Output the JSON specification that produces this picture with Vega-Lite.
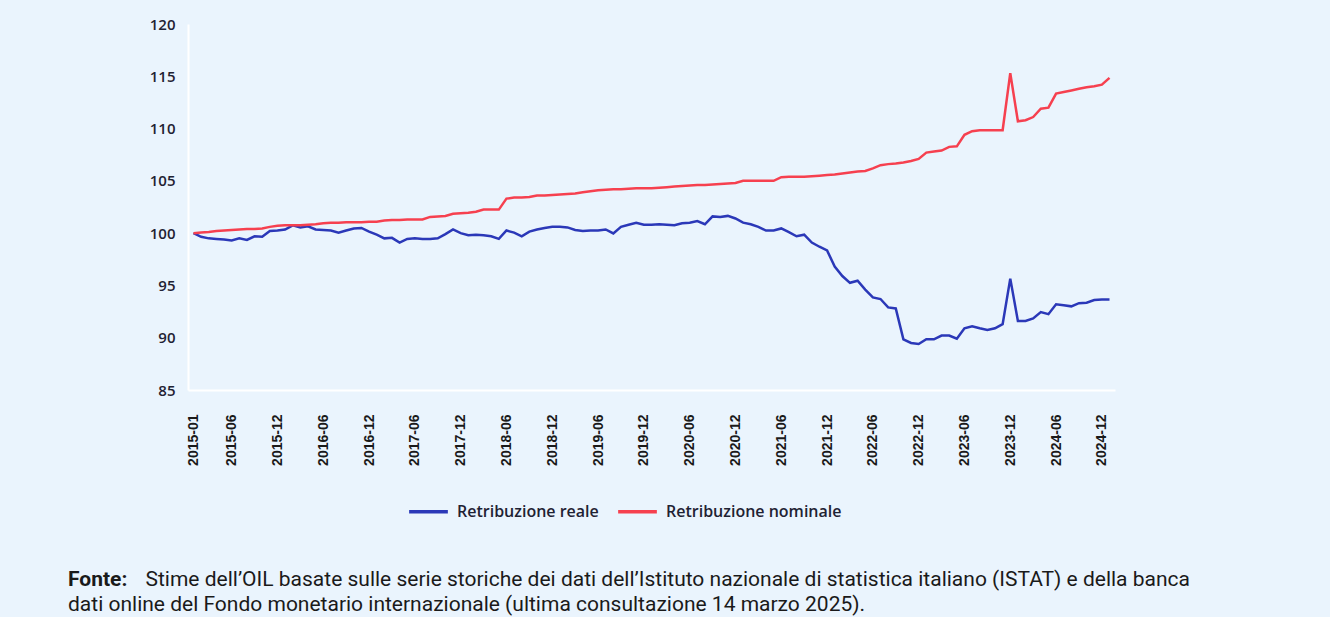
{
  "$schema": "https://vega.github.io/schema/vega-lite/v6.json",
  "width": 927,
  "height": 366,
  "autosize": {"type": "none"},
  "padding": {"left": 188, "top": 24, "right": 215, "bottom": 227},
  "background": "#eaf4fd",
  "view": {"stroke": null},
  "title": {
    "text": "Fonte:",
    "subtitle": "dati online del Fondo monetario internazionale (ultima consultazione 14 marzo 2025).",
    "orient": "bottom",
    "anchor": "start",
    "frame": "group",
    "dx": -120,
    "offset": -20,
    "font": "Roboto",
    "fontSize": 21,
    "fontWeight": "bold",
    "color": "#1a1a1a",
    "subtitleFont": "Roboto",
    "subtitleFontSize": 21,
    "subtitleColor": "#1a1a1a",
    "subtitlePadding": 4
  },
  "data": {"values": [
    {"mese":"2015-01","serie":"Retribuzione reale","valore":100.0},
    {"mese":"2015-02","serie":"Retribuzione reale","valore":99.65},
    {"mese":"2015-03","serie":"Retribuzione reale","valore":99.5},
    {"mese":"2015-04","serie":"Retribuzione reale","valore":99.45},
    {"mese":"2015-05","serie":"Retribuzione reale","valore":99.4},
    {"mese":"2015-06","serie":"Retribuzione reale","valore":99.3},
    {"mese":"2015-07","serie":"Retribuzione reale","valore":99.5},
    {"mese":"2015-08","serie":"Retribuzione reale","valore":99.35},
    {"mese":"2015-09","serie":"Retribuzione reale","valore":99.7},
    {"mese":"2015-10","serie":"Retribuzione reale","valore":99.65},
    {"mese":"2015-11","serie":"Retribuzione reale","valore":100.2},
    {"mese":"2015-12","serie":"Retribuzione reale","valore":100.25},
    {"mese":"2016-01","serie":"Retribuzione reale","valore":100.35},
    {"mese":"2016-02","serie":"Retribuzione reale","valore":100.75},
    {"mese":"2016-03","serie":"Retribuzione reale","valore":100.55},
    {"mese":"2016-04","serie":"Retribuzione reale","valore":100.65},
    {"mese":"2016-05","serie":"Retribuzione reale","valore":100.35},
    {"mese":"2016-06","serie":"Retribuzione reale","valore":100.3},
    {"mese":"2016-07","serie":"Retribuzione reale","valore":100.25},
    {"mese":"2016-08","serie":"Retribuzione reale","valore":100.05},
    {"mese":"2016-09","serie":"Retribuzione reale","valore":100.25},
    {"mese":"2016-10","serie":"Retribuzione reale","valore":100.45},
    {"mese":"2016-11","serie":"Retribuzione reale","valore":100.5},
    {"mese":"2016-12","serie":"Retribuzione reale","valore":100.15},
    {"mese":"2017-01","serie":"Retribuzione reale","valore":99.85},
    {"mese":"2017-02","serie":"Retribuzione reale","valore":99.5},
    {"mese":"2017-03","serie":"Retribuzione reale","valore":99.55},
    {"mese":"2017-04","serie":"Retribuzione reale","valore":99.1},
    {"mese":"2017-05","serie":"Retribuzione reale","valore":99.45},
    {"mese":"2017-06","serie":"Retribuzione reale","valore":99.5},
    {"mese":"2017-07","serie":"Retribuzione reale","valore":99.45},
    {"mese":"2017-08","serie":"Retribuzione reale","valore":99.45},
    {"mese":"2017-09","serie":"Retribuzione reale","valore":99.5},
    {"mese":"2017-10","serie":"Retribuzione reale","valore":99.9},
    {"mese":"2017-11","serie":"Retribuzione reale","valore":100.35},
    {"mese":"2017-12","serie":"Retribuzione reale","valore":100.0},
    {"mese":"2018-01","serie":"Retribuzione reale","valore":99.8},
    {"mese":"2018-02","serie":"Retribuzione reale","valore":99.85},
    {"mese":"2018-03","serie":"Retribuzione reale","valore":99.8},
    {"mese":"2018-04","serie":"Retribuzione reale","valore":99.7},
    {"mese":"2018-05","serie":"Retribuzione reale","valore":99.45},
    {"mese":"2018-06","serie":"Retribuzione reale","valore":100.25},
    {"mese":"2018-07","serie":"Retribuzione reale","valore":100.05},
    {"mese":"2018-08","serie":"Retribuzione reale","valore":99.7},
    {"mese":"2018-09","serie":"Retribuzione reale","valore":100.15},
    {"mese":"2018-10","serie":"Retribuzione reale","valore":100.35},
    {"mese":"2018-11","serie":"Retribuzione reale","valore":100.5},
    {"mese":"2018-12","serie":"Retribuzione reale","valore":100.6},
    {"mese":"2019-01","serie":"Retribuzione reale","valore":100.6},
    {"mese":"2019-02","serie":"Retribuzione reale","valore":100.55},
    {"mese":"2019-03","serie":"Retribuzione reale","valore":100.3},
    {"mese":"2019-04","serie":"Retribuzione reale","valore":100.2},
    {"mese":"2019-05","serie":"Retribuzione reale","valore":100.25},
    {"mese":"2019-06","serie":"Retribuzione reale","valore":100.25},
    {"mese":"2019-07","serie":"Retribuzione reale","valore":100.35},
    {"mese":"2019-08","serie":"Retribuzione reale","valore":99.97},
    {"mese":"2019-09","serie":"Retribuzione reale","valore":100.6},
    {"mese":"2019-10","serie":"Retribuzione reale","valore":100.8},
    {"mese":"2019-11","serie":"Retribuzione reale","valore":101.0},
    {"mese":"2019-12","serie":"Retribuzione reale","valore":100.8},
    {"mese":"2020-01","serie":"Retribuzione reale","valore":100.8},
    {"mese":"2020-02","serie":"Retribuzione reale","valore":100.85},
    {"mese":"2020-03","serie":"Retribuzione reale","valore":100.8},
    {"mese":"2020-04","serie":"Retribuzione reale","valore":100.75},
    {"mese":"2020-05","serie":"Retribuzione reale","valore":100.95},
    {"mese":"2020-06","serie":"Retribuzione reale","valore":101.0},
    {"mese":"2020-07","serie":"Retribuzione reale","valore":101.15},
    {"mese":"2020-08","serie":"Retribuzione reale","valore":100.85},
    {"mese":"2020-09","serie":"Retribuzione reale","valore":101.6},
    {"mese":"2020-10","serie":"Retribuzione reale","valore":101.55},
    {"mese":"2020-11","serie":"Retribuzione reale","valore":101.65},
    {"mese":"2020-12","serie":"Retribuzione reale","valore":101.4},
    {"mese":"2021-01","serie":"Retribuzione reale","valore":101.0},
    {"mese":"2021-02","serie":"Retribuzione reale","valore":100.85},
    {"mese":"2021-03","serie":"Retribuzione reale","valore":100.6},
    {"mese":"2021-04","serie":"Retribuzione reale","valore":100.25},
    {"mese":"2021-05","serie":"Retribuzione reale","valore":100.25},
    {"mese":"2021-06","serie":"Retribuzione reale","valore":100.45},
    {"mese":"2021-07","serie":"Retribuzione reale","valore":100.1},
    {"mese":"2021-08","serie":"Retribuzione reale","valore":99.7},
    {"mese":"2021-09","serie":"Retribuzione reale","valore":99.85},
    {"mese":"2021-10","serie":"Retribuzione reale","valore":99.1},
    {"mese":"2021-11","serie":"Retribuzione reale","valore":98.7},
    {"mese":"2021-12","serie":"Retribuzione reale","valore":98.35},
    {"mese":"2022-01","serie":"Retribuzione reale","valore":96.8},
    {"mese":"2022-02","serie":"Retribuzione reale","valore":95.9},
    {"mese":"2022-03","serie":"Retribuzione reale","valore":95.25},
    {"mese":"2022-04","serie":"Retribuzione reale","valore":95.45},
    {"mese":"2022-05","serie":"Retribuzione reale","valore":94.6},
    {"mese":"2022-06","serie":"Retribuzione reale","valore":93.85},
    {"mese":"2022-07","serie":"Retribuzione reale","valore":93.7},
    {"mese":"2022-08","serie":"Retribuzione reale","valore":92.9},
    {"mese":"2022-09","serie":"Retribuzione reale","valore":92.8},
    {"mese":"2022-10","serie":"Retribuzione reale","valore":89.85},
    {"mese":"2022-11","serie":"Retribuzione reale","valore":89.5},
    {"mese":"2022-12","serie":"Retribuzione reale","valore":89.4},
    {"mese":"2023-01","serie":"Retribuzione reale","valore":89.85},
    {"mese":"2023-02","serie":"Retribuzione reale","valore":89.85},
    {"mese":"2023-03","serie":"Retribuzione reale","valore":90.2},
    {"mese":"2023-04","serie":"Retribuzione reale","valore":90.2},
    {"mese":"2023-05","serie":"Retribuzione reale","valore":89.9},
    {"mese":"2023-06","serie":"Retribuzione reale","valore":90.9},
    {"mese":"2023-07","serie":"Retribuzione reale","valore":91.1},
    {"mese":"2023-08","serie":"Retribuzione reale","valore":90.9},
    {"mese":"2023-09","serie":"Retribuzione reale","valore":90.75},
    {"mese":"2023-10","serie":"Retribuzione reale","valore":90.9},
    {"mese":"2023-11","serie":"Retribuzione reale","valore":91.3},
    {"mese":"2023-12","serie":"Retribuzione reale","valore":95.65},
    {"mese":"2024-01","serie":"Retribuzione reale","valore":91.6},
    {"mese":"2024-02","serie":"Retribuzione reale","valore":91.6},
    {"mese":"2024-03","serie":"Retribuzione reale","valore":91.85},
    {"mese":"2024-04","serie":"Retribuzione reale","valore":92.45},
    {"mese":"2024-05","serie":"Retribuzione reale","valore":92.25},
    {"mese":"2024-06","serie":"Retribuzione reale","valore":93.2},
    {"mese":"2024-07","serie":"Retribuzione reale","valore":93.1},
    {"mese":"2024-08","serie":"Retribuzione reale","valore":93.0},
    {"mese":"2024-09","serie":"Retribuzione reale","valore":93.3},
    {"mese":"2024-10","serie":"Retribuzione reale","valore":93.35},
    {"mese":"2024-11","serie":"Retribuzione reale","valore":93.6},
    {"mese":"2024-12","serie":"Retribuzione reale","valore":93.65},
    {"mese":"2025-01","serie":"Retribuzione reale","valore":93.65},
    {"mese":"2015-01","serie":"Retribuzione nominale","valore":100.0},
    {"mese":"2015-02","serie":"Retribuzione nominale","valore":100.05},
    {"mese":"2015-03","serie":"Retribuzione nominale","valore":100.1},
    {"mese":"2015-04","serie":"Retribuzione nominale","valore":100.2},
    {"mese":"2015-05","serie":"Retribuzione nominale","valore":100.25},
    {"mese":"2015-06","serie":"Retribuzione nominale","valore":100.3},
    {"mese":"2015-07","serie":"Retribuzione nominale","valore":100.35},
    {"mese":"2015-08","serie":"Retribuzione nominale","valore":100.4},
    {"mese":"2015-09","serie":"Retribuzione nominale","valore":100.4},
    {"mese":"2015-10","serie":"Retribuzione nominale","valore":100.45},
    {"mese":"2015-11","serie":"Retribuzione nominale","valore":100.6},
    {"mese":"2015-12","serie":"Retribuzione nominale","valore":100.7},
    {"mese":"2016-01","serie":"Retribuzione nominale","valore":100.75},
    {"mese":"2016-02","serie":"Retribuzione nominale","valore":100.75},
    {"mese":"2016-03","serie":"Retribuzione nominale","valore":100.75},
    {"mese":"2016-04","serie":"Retribuzione nominale","valore":100.8},
    {"mese":"2016-05","serie":"Retribuzione nominale","valore":100.85},
    {"mese":"2016-06","serie":"Retribuzione nominale","valore":100.95},
    {"mese":"2016-07","serie":"Retribuzione nominale","valore":101.0},
    {"mese":"2016-08","serie":"Retribuzione nominale","valore":101.0},
    {"mese":"2016-09","serie":"Retribuzione nominale","valore":101.05},
    {"mese":"2016-10","serie":"Retribuzione nominale","valore":101.05},
    {"mese":"2016-11","serie":"Retribuzione nominale","valore":101.05},
    {"mese":"2016-12","serie":"Retribuzione nominale","valore":101.1},
    {"mese":"2017-01","serie":"Retribuzione nominale","valore":101.1},
    {"mese":"2017-02","serie":"Retribuzione nominale","valore":101.2},
    {"mese":"2017-03","serie":"Retribuzione nominale","valore":101.25},
    {"mese":"2017-04","serie":"Retribuzione nominale","valore":101.25},
    {"mese":"2017-05","serie":"Retribuzione nominale","valore":101.3},
    {"mese":"2017-06","serie":"Retribuzione nominale","valore":101.3},
    {"mese":"2017-07","serie":"Retribuzione nominale","valore":101.3},
    {"mese":"2017-08","serie":"Retribuzione nominale","valore":101.55},
    {"mese":"2017-09","serie":"Retribuzione nominale","valore":101.6},
    {"mese":"2017-10","serie":"Retribuzione nominale","valore":101.65},
    {"mese":"2017-11","serie":"Retribuzione nominale","valore":101.85},
    {"mese":"2017-12","serie":"Retribuzione nominale","valore":101.9},
    {"mese":"2018-01","serie":"Retribuzione nominale","valore":101.95},
    {"mese":"2018-02","serie":"Retribuzione nominale","valore":102.05},
    {"mese":"2018-03","serie":"Retribuzione nominale","valore":102.25},
    {"mese":"2018-04","serie":"Retribuzione nominale","valore":102.25},
    {"mese":"2018-05","serie":"Retribuzione nominale","valore":102.25},
    {"mese":"2018-06","serie":"Retribuzione nominale","valore":103.3},
    {"mese":"2018-07","serie":"Retribuzione nominale","valore":103.4},
    {"mese":"2018-08","serie":"Retribuzione nominale","valore":103.4},
    {"mese":"2018-09","serie":"Retribuzione nominale","valore":103.45},
    {"mese":"2018-10","serie":"Retribuzione nominale","valore":103.6},
    {"mese":"2018-11","serie":"Retribuzione nominale","valore":103.6},
    {"mese":"2018-12","serie":"Retribuzione nominale","valore":103.65},
    {"mese":"2019-01","serie":"Retribuzione nominale","valore":103.7},
    {"mese":"2019-02","serie":"Retribuzione nominale","valore":103.75},
    {"mese":"2019-03","serie":"Retribuzione nominale","valore":103.8},
    {"mese":"2019-04","serie":"Retribuzione nominale","valore":103.9},
    {"mese":"2019-05","serie":"Retribuzione nominale","valore":104.0},
    {"mese":"2019-06","serie":"Retribuzione nominale","valore":104.1},
    {"mese":"2019-07","serie":"Retribuzione nominale","valore":104.15},
    {"mese":"2019-08","serie":"Retribuzione nominale","valore":104.2},
    {"mese":"2019-09","serie":"Retribuzione nominale","valore":104.2},
    {"mese":"2019-10","serie":"Retribuzione nominale","valore":104.25},
    {"mese":"2019-11","serie":"Retribuzione nominale","valore":104.3},
    {"mese":"2019-12","serie":"Retribuzione nominale","valore":104.3},
    {"mese":"2020-01","serie":"Retribuzione nominale","valore":104.3},
    {"mese":"2020-02","serie":"Retribuzione nominale","valore":104.35},
    {"mese":"2020-03","serie":"Retribuzione nominale","valore":104.4},
    {"mese":"2020-04","serie":"Retribuzione nominale","valore":104.45},
    {"mese":"2020-05","serie":"Retribuzione nominale","valore":104.5},
    {"mese":"2020-06","serie":"Retribuzione nominale","valore":104.55},
    {"mese":"2020-07","serie":"Retribuzione nominale","valore":104.6},
    {"mese":"2020-08","serie":"Retribuzione nominale","valore":104.6},
    {"mese":"2020-09","serie":"Retribuzione nominale","valore":104.65},
    {"mese":"2020-10","serie":"Retribuzione nominale","valore":104.7},
    {"mese":"2020-11","serie":"Retribuzione nominale","valore":104.75},
    {"mese":"2020-12","serie":"Retribuzione nominale","valore":104.8},
    {"mese":"2021-01","serie":"Retribuzione nominale","valore":105.0},
    {"mese":"2021-02","serie":"Retribuzione nominale","valore":105.0},
    {"mese":"2021-03","serie":"Retribuzione nominale","valore":105.0},
    {"mese":"2021-04","serie":"Retribuzione nominale","valore":105.0},
    {"mese":"2021-05","serie":"Retribuzione nominale","valore":105.0},
    {"mese":"2021-06","serie":"Retribuzione nominale","valore":105.35},
    {"mese":"2021-07","serie":"Retribuzione nominale","valore":105.4},
    {"mese":"2021-08","serie":"Retribuzione nominale","valore":105.4},
    {"mese":"2021-09","serie":"Retribuzione nominale","valore":105.4},
    {"mese":"2021-10","serie":"Retribuzione nominale","valore":105.45},
    {"mese":"2021-11","serie":"Retribuzione nominale","valore":105.5},
    {"mese":"2021-12","serie":"Retribuzione nominale","valore":105.55},
    {"mese":"2022-01","serie":"Retribuzione nominale","valore":105.6},
    {"mese":"2022-02","serie":"Retribuzione nominale","valore":105.7},
    {"mese":"2022-03","serie":"Retribuzione nominale","valore":105.8},
    {"mese":"2022-04","serie":"Retribuzione nominale","valore":105.9},
    {"mese":"2022-05","serie":"Retribuzione nominale","valore":105.95},
    {"mese":"2022-06","serie":"Retribuzione nominale","valore":106.2},
    {"mese":"2022-07","serie":"Retribuzione nominale","valore":106.5},
    {"mese":"2022-08","serie":"Retribuzione nominale","valore":106.6},
    {"mese":"2022-09","serie":"Retribuzione nominale","valore":106.65},
    {"mese":"2022-10","serie":"Retribuzione nominale","valore":106.75},
    {"mese":"2022-11","serie":"Retribuzione nominale","valore":106.9},
    {"mese":"2022-12","serie":"Retribuzione nominale","valore":107.1},
    {"mese":"2023-01","serie":"Retribuzione nominale","valore":107.7},
    {"mese":"2023-02","serie":"Retribuzione nominale","valore":107.8},
    {"mese":"2023-03","serie":"Retribuzione nominale","valore":107.9},
    {"mese":"2023-04","serie":"Retribuzione nominale","valore":108.25},
    {"mese":"2023-05","serie":"Retribuzione nominale","valore":108.3},
    {"mese":"2023-06","serie":"Retribuzione nominale","valore":109.4},
    {"mese":"2023-07","serie":"Retribuzione nominale","valore":109.75},
    {"mese":"2023-08","serie":"Retribuzione nominale","valore":109.85},
    {"mese":"2023-09","serie":"Retribuzione nominale","valore":109.85},
    {"mese":"2023-10","serie":"Retribuzione nominale","valore":109.85},
    {"mese":"2023-11","serie":"Retribuzione nominale","valore":109.85},
    {"mese":"2023-12","serie":"Retribuzione nominale","valore":115.3},
    {"mese":"2024-01","serie":"Retribuzione nominale","valore":110.7},
    {"mese":"2024-02","serie":"Retribuzione nominale","valore":110.8},
    {"mese":"2024-03","serie":"Retribuzione nominale","valore":111.1},
    {"mese":"2024-04","serie":"Retribuzione nominale","valore":111.9},
    {"mese":"2024-05","serie":"Retribuzione nominale","valore":112.0},
    {"mese":"2024-06","serie":"Retribuzione nominale","valore":113.35},
    {"mese":"2024-07","serie":"Retribuzione nominale","valore":113.5},
    {"mese":"2024-08","serie":"Retribuzione nominale","valore":113.65},
    {"mese":"2024-09","serie":"Retribuzione nominale","valore":113.8},
    {"mese":"2024-10","serie":"Retribuzione nominale","valore":113.95},
    {"mese":"2024-11","serie":"Retribuzione nominale","valore":114.05},
    {"mese":"2024-12","serie":"Retribuzione nominale","valore":114.2},
    {"mese":"2025-01","serie":"Retribuzione nominale","valore":114.85}
  ]},
  "mark": {"type": "line", "strokeWidth": 2.5},
  "encoding": {
    "x": {
      "field": "mese",
      "type": "ordinal",
      "scale": {"type": "point", "padding": 0.72},
      "axis": {
        "values": ["2015-01","2015-06","2015-12","2016-06","2016-12","2017-06","2017-12","2018-06","2018-12","2019-06","2019-12","2020-06","2020-12","2021-06","2021-12","2022-06","2022-12","2023-06","2023-12","2024-06","2024-12"],
        "title": "Stime dell\u2019OIL basate sulle serie storiche dei dati dell\u2019Istituto nazionale di statistica italiano (ISTAT) e della banca",
        "titleX": -43,
        "titleY": 195,
        "titleAlign": "left",
        "titleAnchor": "start",
        "titleBaseline": "alphabetic",
        "titleAngle": 0,
        "titleFont": "Roboto",
        "titleFontSize": 21,
        "titleFontWeight": "normal",
        "titleColor": "#1a1a1a",
        "titleLimit": 1200,
        "labelAngle": -90,
        "labelAlign": "right",
        "labelBaseline": "middle",
        "labelPadding": 24,
        "labelFont": "Liberation Sans",
        "labelFontSize": 14,
        "labelFontWeight": "bold",
        "labelColor": "#1a1a1a",
        "ticks": false,
        "domainColor": "#ffffff",
        "domainWidth": 2,
        "grid": false
      }
    },
    "y": {
      "field": "valore",
      "type": "quantitative",
      "scale": {"domain": [85, 120], "zero": false},
      "axis": {
        "values": [85, 90, 95, 100, 105, 110, 115, 120],
        "title": null,
        "grid": false,
        "ticks": false,
        "domainColor": "#ffffff",
        "domainWidth": 2,
        "labelPadding": 13,
        "labelFont": "Open Sans",
        "labelFontSize": 15,
        "labelFontWeight": 600,
        "labelColor": "#1f2233"
      }
    },
    "color": {
      "field": "serie",
      "type": "nominal",
      "scale": {"domain": ["Retribuzione reale", "Retribuzione nominale"], "range": ["#2b38b8", "#f6404f"]},
      "legend": {
        "orient": "none",
        "legendX": 219,
        "legendY": 466,
        "direction": "horizontal",
        "title": null,
        "symbolType": "stroke",
        "symbolSize": 1500,
        "symbolStrokeWidth": 3.5,
        "labelFont": "Open Sans",
        "labelFontSize": 16,
        "labelFontWeight": 600,
        "labelColor": "#1f2233",
        "labelOffset": 7,
        "labelLimit": 400,
        "columnPadding": 12
      }
    }
  }
}
